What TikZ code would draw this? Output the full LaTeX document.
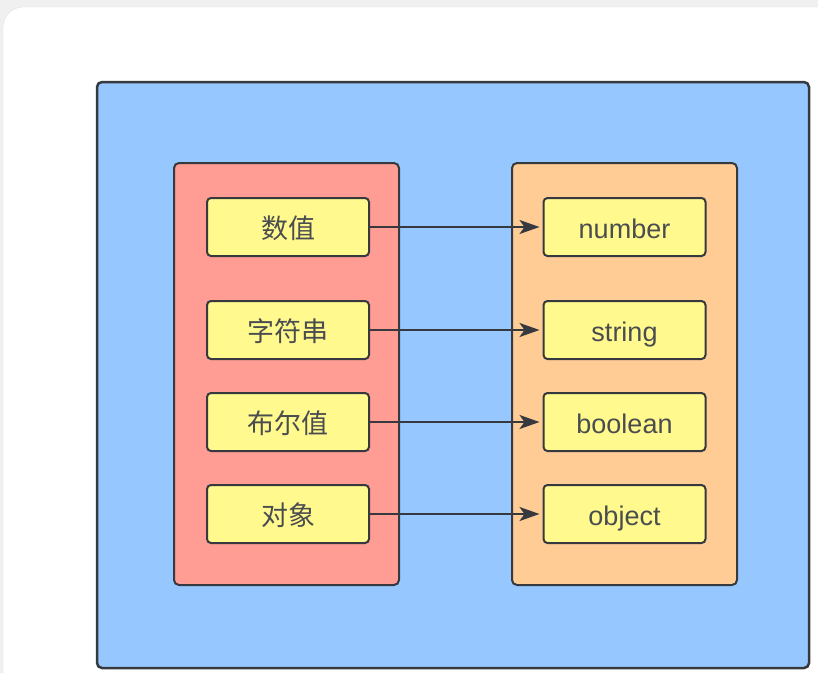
\documentclass[tikz,border=0pt]{standalone}
\usepackage{fontspec}
\setmainfont{Liberation Sans}
\newfontfamily\cjk{Noto Sans CJK SC}
\usetikzlibrary{positioning,arrows.meta}
\tikzset{>={Stealth[length=20pt,width=14pt,inset=5pt]}}
\definecolor{bluebg}{HTML}{96C8FF}
\definecolor{redbg}{HTML}{FF9C94}
\definecolor{orangebg}{HTML}{FFCC96}
\definecolor{yellowbg}{HTML}{FFF98E}
\definecolor{edge}{HTML}{36393D}

\begin{document}
\begin{tikzpicture}[x=1pt,y=-1pt,
  item/.style={draw=edge,fill=yellowbg,line width=2pt,rounded corners=4pt,
    minimum width=162pt,minimum height=58pt,inner sep=0pt,
    text height=25pt,text depth=2pt,
    font=\fontsize{27}{27}\selectfont,text=edge!90},
  panel/.style={draw=edge,line width=2pt,rounded corners=5pt}]
\useasboundingbox (0,0) rectangle (818,673);
\clip (0,0) rectangle (818,673);
\fill[gray!12] (0,0) rectangle (818,673);
\draw[gray!25,fill=white,rounded corners=20pt] (3,7) rectangle (840,700);
% containers
\draw[panel,fill=bluebg,line width=2.5pt] (97,82) rectangle (809,668);
\draw[panel,fill=redbg] (174,163) rectangle (399,585);
\draw[panel,fill=orangebg] (512,163) rectangle (737,585);
% left column
\node[item] (num) at (288,227) {\cjk 数值};
\node[item,below=43pt of num] (str) {\cjk 字符串};
\node[item,below=32pt of str] (bool) {\cjk 布尔值};
\node[item,below=32pt of bool] (obj) {\cjk 对象};
% right column
\node[item] (tnum) at (624.5,227) {number};
\node[item,below=43pt of tnum] (tstr) {string};
\node[item,below=32pt of tstr] (tbool) {boolean};
\node[item,below=32pt of tbool] (tobj) {object};
\foreach \a/\b in {num/tnum,str/tstr,bool/tbool,obj/tobj}
  \draw[->,draw=edge,line width=2pt,shorten >=3pt] (\a) -- (\b);
\end{tikzpicture}
\end{document}
